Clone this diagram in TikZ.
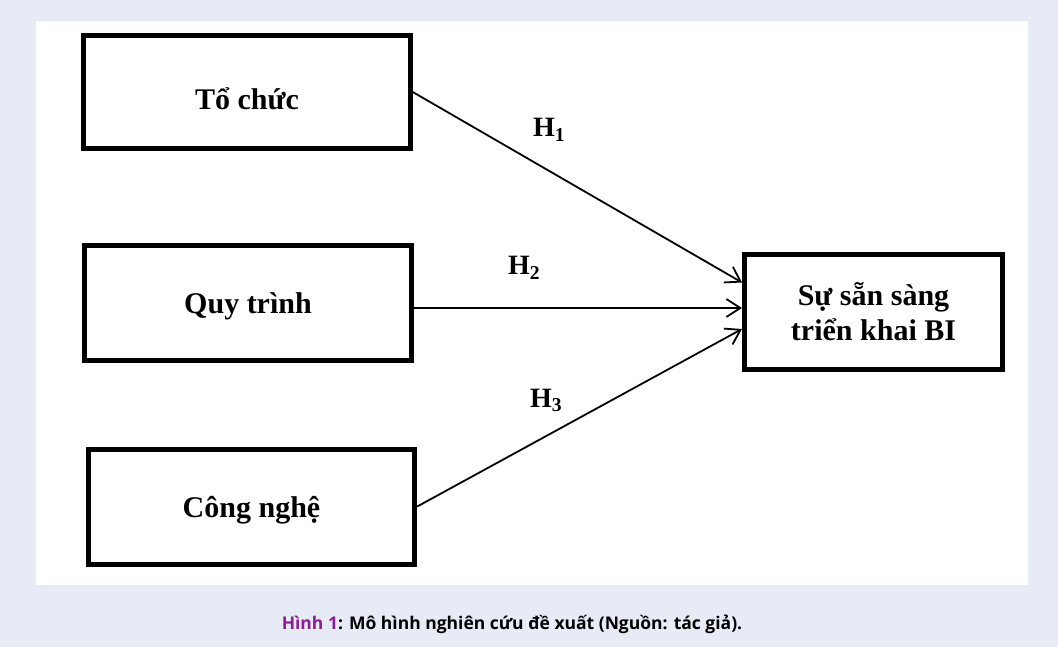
\documentclass[tikz,border=0pt]{standalone}
\usepackage{fontspec}
\setmainfont{Liberation Serif}
\newfontfamily\capfont{Open Sans}
\usetikzlibrary{arrows.meta}
\definecolor{bgblue}{HTML}{E7EBF6}
\definecolor{capmag}{HTML}{8B1C96}
\tikzset{
  box/.style={draw, line width=5pt, inner sep=0pt, font=\fontsize{30}{35}\selectfont\bfseries, align=center},
  conn/.style={line width=1.8pt, -{Straight Barb[length=14pt,width=18pt,line width=1.8pt]}},
  hyp/.style={font=\fontsize{28}{30}\selectfont\bfseries, anchor=base west, inner sep=0pt},
}
\begin{document}
\begin{tikzpicture}[x=1pt,y=-1pt]
\useasboundingbox (0,0) rectangle (1058,647);
\fill[bgblue] (0,0) rectangle (1058,647);
\fill[white] (36,21) rectangle (1028,585);
\node[box, minimum width=326.5pt, minimum height=113.5pt, text height=36pt, text depth=0pt] (org) at (247,92) {Tổ chức};
\node[box, minimum width=326.5pt, minimum height=115pt, text height=20pt, text depth=0pt] (proc) at (248,303) {Quy trình};
\node[box, minimum width=326.5pt, minimum height=115pt, text height=21pt, text depth=0pt] (tech) at (251.5,506.5) {Công nghệ};
\node[box, minimum width=258pt, minimum height=114.5pt] (bi) at (873.5,312) {Sự sẵn sàng\\triển khai BI};
\coordinate (e1) at (742,282.5);
\coordinate (e2) at (742,308);
\coordinate (e3) at (742,329);
\coordinate (s2) at (proc.east |- e2);
\draw[conn] (org.east) -- (e1);
\draw[conn] (s2) -- (e2);
\draw[conn] (tech.east) -- (e3);
\node[hyp] (h1) at (533,137) {H\textsubscript{1}};
\node[hyp] (h2) at (508,275) {H\textsubscript{2}};
\node[hyp] (h3) at (530,407) {H\textsubscript{3}};
\node[font=\capfont\bfseries\fontsize{17.5}{20}\selectfont, anchor=base, inner sep=0pt] (cap) at (512,629) {\textcolor{capmag}{Hình 1}: Mô hình nghiên cứu đề xuất (Nguồn: tác giả).};
\end{tikzpicture}
\end{document}
